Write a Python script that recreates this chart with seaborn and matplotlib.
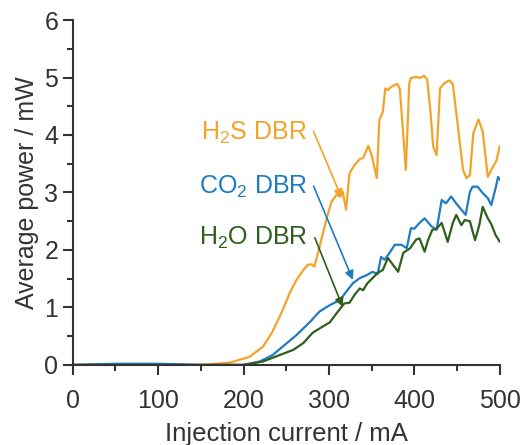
import numpy as np
import pandas as pd
import seaborn as sns
import matplotlib.pyplot as plt
from matplotlib.ticker import MultipleLocator

# values
h2s_current = [0, 50, 100, 150, 184, 207, 223, 234, 246, 254, 262, 270, 275, 280, 283, 287,
               293, 299, 303, 309, 313, 316, 320, 324, 330, 336, 340, 346, 350, 356, 359, 363,
               366, 369, 373, 380, 383, 390, 394, 396, 402, 407, 411, 415, 419, 422, 426, 430,
               435, 441, 445, 451, 457, 461, 465, 469, 475, 480, 486, 492, 496, 500]
h2s_power = [0.0, 0.01, 0.01, 0.0, 0.04, 0.14, 0.32, 0.58, 0.96, 1.25, 1.48, 1.65, 1.74, 1.75, 1.71, 1.94,
             2.30, 2.64, 2.84, 2.96, 2.93, 3.02, 2.70, 3.33, 3.48, 3.58, 3.60, 3.81, 3.65, 3.25, 4.26, 4.40,
             4.81, 4.78, 4.84, 4.89, 4.80, 3.39, 4.90, 4.99, 5.01, 4.99, 5.03, 4.97, 4.38, 3.80, 3.65, 4.81,
             4.90, 4.95, 4.89, 4.14, 3.39, 3.25, 3.30, 4.03, 4.27, 4.06, 3.27, 3.45, 3.55, 3.81]

co2_current = [0, 50, 100, 150, 200, 219, 234, 246, 262, 278, 289, 301, 313, 320, 328, 336,
               344, 351, 357, 361, 365, 371, 377, 385, 391, 396, 400, 406, 412, 420, 426, 432,
               437, 443, 449, 455, 460, 465, 468, 474, 480, 486, 490, 495, 498, 502]
co2_power = [0.0, 0.02, 0.02, 0.0, 0.0, 0.06, 0.17, 0.32, 0.52, 0.75, 0.93, 1.04, 1.13, 1.27, 1.42, 1.51,
             1.56, 1.62, 1.58, 1.88, 1.83, 1.95, 2.09, 2.09, 2.03, 2.38, 2.37, 2.47, 2.55, 2.41, 2.35, 2.87,
             2.81, 2.93, 2.81, 2.70, 2.61, 3.01, 3.10, 3.10, 2.99, 2.90, 2.78, 3.07, 3.27, 3.19]

h2o_current = [0, 50, 100, 150, 200, 223, 242, 258, 270, 281, 293, 301, 309, 318, 324, 330,
               336, 340, 345, 351, 357, 363, 369, 375, 381, 387, 395, 402, 406, 412, 416, 421,
               426, 432, 439, 445, 449, 455, 459, 465, 471, 476, 480, 486, 490, 495, 500]
h2o_power = [0.0, 0.0, 0.0, 0.0, 0.0, 0.06, 0.17, 0.26, 0.38, 0.56, 0.67, 0.74, 0.90, 1.07, 1.08, 1.22,
             1.33, 1.30, 1.42, 1.51, 1.60, 1.65, 1.86, 1.74, 1.62, 1.95, 2.03, 2.18, 2.20, 1.97, 2.17, 2.35,
             2.37, 2.47, 2.14, 2.47, 2.61, 2.43, 2.52, 2.50, 2.17, 2.43, 2.75, 2.55, 2.45, 2.26, 2.14]

labels = ["H$_2$S DBR", "CO$_2$ DBR", "H$_2$O DBR"]
colors = ["#F4A32A", "#1F7BC4", "#2F5F1C"]
# text right edge / centre, arrow start, arrow tip (data units)
text_pos = [(274, 4.03), (275, 3.10), (275, 2.21)]
arrow_start = [(282, 4.06), (282, 3.11), (283.5, 2.21)]
arrow_tip = [(315, 2.90), (328, 1.48), (316, 1.01)]

sns.set_style("ticks")
plt.rcParams['font.family'] = ['Liberation Sans', 'DejaVu Sans']
plt.rcParams['mathtext.default'] = 'regular'

fig = plt.figure(figsize=(5.25, 4.45), dpi=100)
ax = fig.add_axes([0.1385, 0.18, 0.8135, 0.775])

series = [(h2s_current, h2s_power), (co2_current, co2_power), (h2o_current, h2o_power)]
for (x, y), col in zip(series, colors):
    sns.lineplot(x=x, y=y, color=col, linewidth=1.6, ax=ax, sort=False)

for lab, col, tp, st, tip in zip(labels, colors, text_pos, arrow_start, arrow_tip):
    ax.text(tp[0], tp[1], lab, color=col, fontsize=18, ha='right', va='center')
    ax.annotate('', xy=tip, xytext=st,
                arrowprops=dict(arrowstyle='-|>', color=col, lw=1.2, mutation_scale=13,
                                shrinkA=0, shrinkB=0))

ax.set_xlim(0, 500)
ax.set_ylim(0, 6)
ax.xaxis.set_major_locator(MultipleLocator(100))
ax.xaxis.set_minor_locator(MultipleLocator(50))
ax.yaxis.set_major_locator(MultipleLocator(1))
ax.yaxis.set_minor_locator(MultipleLocator(0.5))
ax.tick_params(which='major', length=7, width=1.5, labelsize=18, color='#333333', labelcolor='#333333')
ax.tick_params(which='minor', length=4, width=1.5, color='#333333')
ax.tick_params(axis='x', which='major', pad=10)
for s in ['left', 'bottom']:
    ax.spines[s].set_linewidth(1.5)
    ax.spines[s].set_color('#333333')
sns.despine(ax=ax)
ax.set_xlabel("Injection current / mA", fontsize=18.5, color='#333333', labelpad=7)
ax.set_ylabel("Average power / mW", fontsize=18, color='#333333', labelpad=4)

fig.savefig("out.png", dpi=100)
